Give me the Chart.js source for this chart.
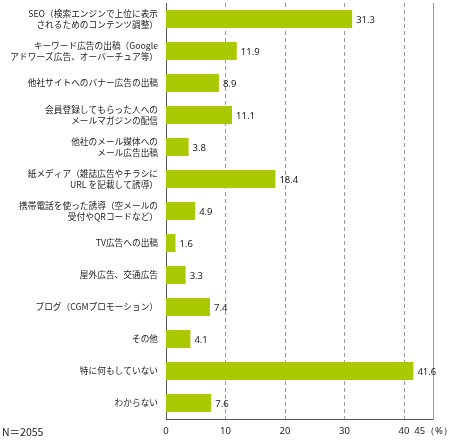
<!DOCTYPE html>
<html>
<head>
<meta charset="utf-8">
<script src="https://cdn.jsdelivr.net/npm/chart.js@4.4.0/dist/chart.umd.min.js"></script>
<style>
  html, body { margin: 0; padding: 0; background: #fff; }
  #wrap { width: 460px; height: 440px; }
</style>
</head>
<body>
<div id="wrap"><canvas id="chart" width="460" height="440"></canvas></div>
<script>
const categories = [
    ["SEO（検索エンジンで上位に表示", "されるためのコンテンツ調整）"],
    ["キーワード広告の出稿（Google", "アドワーズ広告、オーバーチュア等）"],
    "他社サイトへのバナー広告の出稿",
    ["会員登録してもらった人への", "メールマガジンの配信"],
    ["他社のメール媒体への", "メール広告出稿"],
    ["紙メディア（雑誌広告やチラシに", "URL を記載して誘導）"],
    ["携帯電話を使った誘導（空メールの", "受付やQRコードなど）"],
    "TV広告への出稿",
    "屋外広告、交通広告",
    "ブログ（CGMプロモーション）",
    "その他",
    "特に何もしていない",
    "わからない"
];
const values = [31.3, 11.9, 8.9, 11.1, 3.8, 18.4, 4.9, 1.6, 3.3, 7.4, 4.1, 41.6, 7.6];
const xTicks = [0, 10, 20, 30, 40, 45];
const dashedTicks = [10, 20, 30, 40];
const sampleNote = "N＝2055";

const barColor = "#abc900";
const jpFont = "'Noto Sans CJK JP', 'Noto Sans', sans-serif";

// dashed grid lines, drawn from the x scale
const gridPlugin = {
    id: "dashGrid",
    beforeDatasetsDraw(chart) {
        const ctx = chart.ctx;
        const y = chart.scales.y;
        const x = chart.scales.x;
        ctx.save();
        ctx.strokeStyle = "#999";
        ctx.lineWidth = 1;
        ctx.setLineDash([4, 3]);
        dashedTicks.forEach(v => {
            const px = Math.round(x.getPixelForValue(v)) + 0.5;
            ctx.beginPath();
            ctx.moveTo(px, y.top);
            ctx.lineTo(px, y.bottom);
            ctx.stroke();
        });
        ctx.restore();
    }
};

// value labels at the bar ends + the N note
const labelPlugin = {
    id: "labels",
    afterDatasetsDraw(chart) {
        const ctx = chart.ctx;
        const meta = chart.getDatasetMeta(0);
        ctx.save();
        ctx.font = "9.5px 'Noto Sans', sans-serif";
        ctx.fillStyle = "#222";
        ctx.textBaseline = "middle";
        ctx.textAlign = "left";
        meta.data.forEach((bar, i) => {
            ctx.fillText(values[i].toFixed(1), bar.x + 4, bar.y + 1);
        });
        ctx.font = "10.5px " + jpFont;
        ctx.fillText(sampleNote, 2, 432);
        ctx.restore();
    }
};

new Chart(document.getElementById("chart").getContext("2d"), {
    type: "bar",
    data: {
        labels: categories,
        datasets: [{
            data: values,
            backgroundColor: barColor,
            barPercentage: 0.56,
            categoryPercentage: 1
        }]
    },
    options: {
        indexAxis: "y",
        responsive: false,
        animation: false,
        layout: { padding: { top: 3, right: 24, left: 0, bottom: 0 } },
        plugins: {
            legend: { display: false },
            tooltip: { enabled: false }
        },
        scales: {
            x: {
                min: 0,
                max: 45,
                afterBuildTicks: scale => { scale.ticks = xTicks.map(v => ({ value: v })); },
                afterFit: scale => { scale.height = 21; },
                ticks: {
                    autoSkip: false,
                    maxRotation: 0,
                    padding: 7,
                    color: "#222",
                    font: { size: 9.5, family: "'Noto Sans', sans-serif" },
                    callback: v => (v === 45 ? "45（%）" : String(v))
                },
                grid: { display: false, drawTicks: false },
                border: { color: "#555" }
            },
            y: {
                afterFit: scale => { scale.width = 166; scale.paddingTop = 0; },
                grid: { display: false, drawTicks: false },
                border: { color: "#555" },
                ticks: {
                    padding: 8,
                    color: "#222",
                    font: { size: 8.7, family: jpFont, lineHeight: 1.2 }
                }
            },
            yRight: {
                position: "right",
                afterFit: scale => { scale.width = 0; },
                grid: { display: false, drawTicks: false },
                ticks: { display: false },
                border: { color: "#999" }
            }
        }
    },
    plugins: [gridPlugin, labelPlugin]
});
</script>
</body>
</html>
